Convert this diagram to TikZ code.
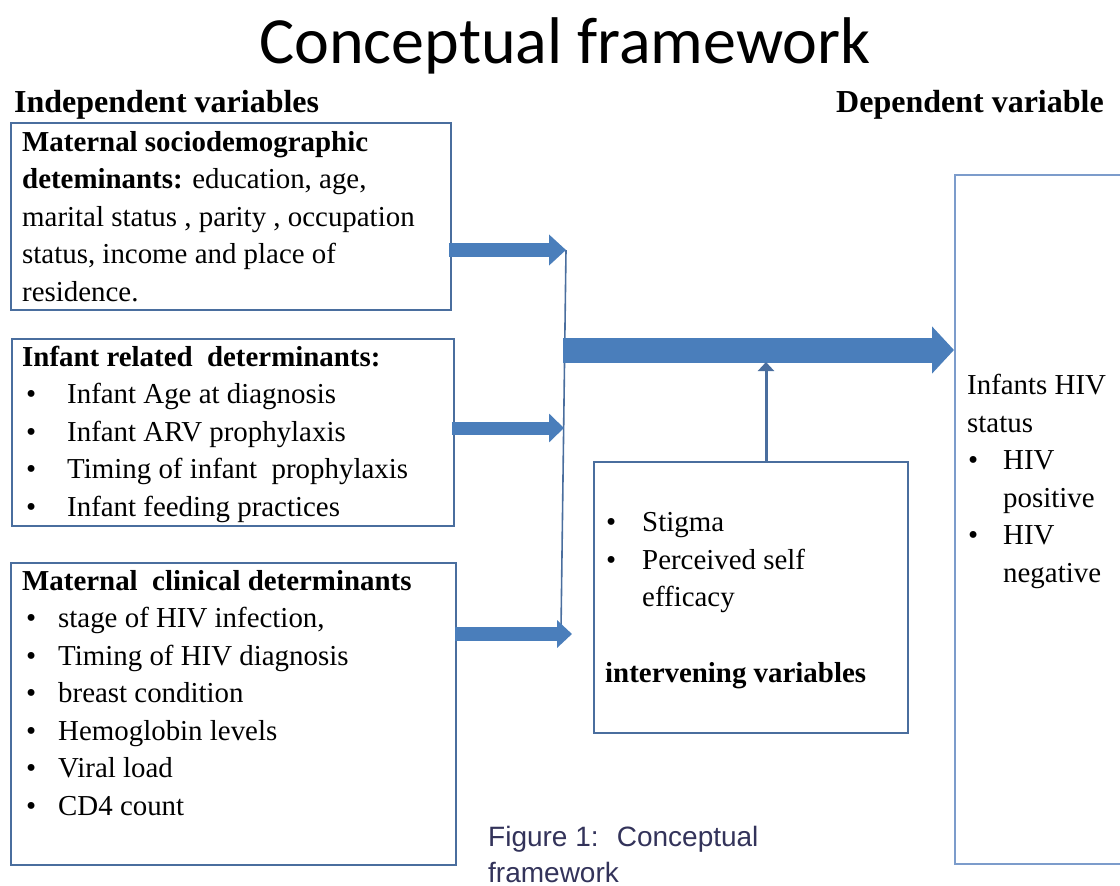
\documentclass[tikz,border=0pt]{standalone}
\usepackage{fontspec}
\setmainfont{Liberation Serif}
\newfontfamily\titlefont{Carlito}
\newfontfamily\capfont{Liberation Sans}
\usetikzlibrary{arrows.meta}
\definecolor{boxblue}{HTML}{4A6E9E}
\definecolor{depblue}{HTML}{7C9CCB}
\definecolor{arrowblue}{HTML}{4A7EBB}
\definecolor{capcol}{HTML}{33335A}
\newcommand{\myitem}[2]{\hspace*{#1}\makebox[#2][l]{\textbullet}}
\tikzset{
  box/.style={draw=boxblue, line width=1.8pt, inner sep=0pt, anchor=north west},
  depbox/.style={draw=depblue, line width=2pt, inner sep=0pt, anchor=north west},
  txt/.style={anchor=base west, align=left, inner sep=0pt, font=\fontsize{28.9}{37.5}\selectfont},
  hdr/.style={anchor=base west, inner sep=0pt, font=\fontsize{32}{37}\selectfont\bfseries},
  blockarrow/.style={draw=arrowblue, line cap=butt},
  thinline/.style={draw=boxblue, line width=1.6pt},
}
\begin{document}
\begin{tikzpicture}[x=1pt,y=-1pt]
\useasboundingbox (0,0) rectangle (1120,886);
% title and headers
\node[anchor=base, inner sep=0pt, font=\titlefont\fontsize{66}{70}\selectfont] (ttl) at (565,63) {Conceptual framework};
\node[hdr] (indep) at (14,112) {Independent variables};
\node[hdr] (depv) at (836,112) {Dependent variable};
% boxes
\node[box, minimum width=440pt, minimum height=187pt] (b1) at (10,122) {};
\node[box, minimum width=442pt, minimum height=187pt] (b2) at (11,338) {};
\node[box, minimum width=445pt, minimum height=302pt] (b3) at (10,562) {};
\node[box, minimum width=314pt, minimum height=271pt] (iv) at (593,461) {};
\node[depbox, minimum width=200pt, minimum height=689pt] (dep) at (954,174) {};
% texts (anchor = baseline of the last line)
\node[txt] (t1) at (22,301) {\textbf{Maternal sociodemographic}\\
\textbf{deteminants:} education, age,\\
marital status , parity , occupation\\
status, income and place of\\
residence.};
\node[txt] (t2) at (22,516) {\textbf{Infant related~ determinants:}\\
\myitem{4pt}{41pt}Infant Age at diagnosis\\
\myitem{4pt}{41pt}Infant ARV prophylaxis\\
\myitem{4pt}{41pt}Timing of infant~ prophylaxis\\
\myitem{4pt}{41pt}Infant feeding practices};
\node[txt] (t3) at (22,815) {\textbf{Maternal~ clinical determinants}\\
\myitem{4pt}{32pt}stage of HIV infection,\\
\myitem{4pt}{32pt}Timing of HIV diagnosis\\
\myitem{4pt}{32pt}breast condition\\
\myitem{4pt}{32pt}Hemoglobin levels\\
\myitem{4pt}{32pt}Viral load\\
\myitem{4pt}{32pt}CD4 count};
\node[txt] (t4) at (605,682) {\myitem{1pt}{36pt}Stigma\\
\myitem{1pt}{36pt}Perceived self\\
\hspace*{37pt}efficacy\\[38pt]
\textbf{intervening variables}};
\node[txt] (t5) at (967,582) {Infants HIV\\
status\\
\myitem{1pt}{35pt}HIV\\
\hspace*{36pt}positive\\
\myitem{1pt}{35pt}HIV\\
\hspace*{36pt}negative};
\node[anchor=base west, align=left, inner sep=0pt, text=capcol, font=\capfont\fontsize{28}{36}\selectfont] (cap) at (488,882) {Figure 1:~ Conceptual\\framework};
% connectors
\coordinate (j1) at (566,250);
\coordinate (j2) at (564,428);
\coordinate (j3) at (572,634);
\coordinate (vbot) at (561,630);
\coordinate (m) at (563,350);
\coordinate (u) at (766,461);
\coordinate (ub) at (766,362);
\draw[thinline] (j1) -- (vbot);
\draw[blockarrow, line width=14pt, -{Triangle[length=17pt,width=30pt]}] (b1.east |- j1) ++(-3,0) -- (j1);
\draw[blockarrow, line width=13pt, -{Triangle[length=15pt,width=28pt]}] (b2.east |- j2) ++(-3,0) -- (j2);
\draw[blockarrow, line width=14pt, -{Triangle[length=15pt,width=27pt]}] (b3.east |- j3) ++(-2,0) -- (j3);
\draw[blockarrow, line width=25pt, -{Triangle[length=22pt,width=46pt]}] (m) -- (dep.west |- m);
\draw[thinline, line width=3pt, -{Triangle[length=9pt,width=16pt]}] (u) -- (ub);
\end{tikzpicture}
\end{document}
